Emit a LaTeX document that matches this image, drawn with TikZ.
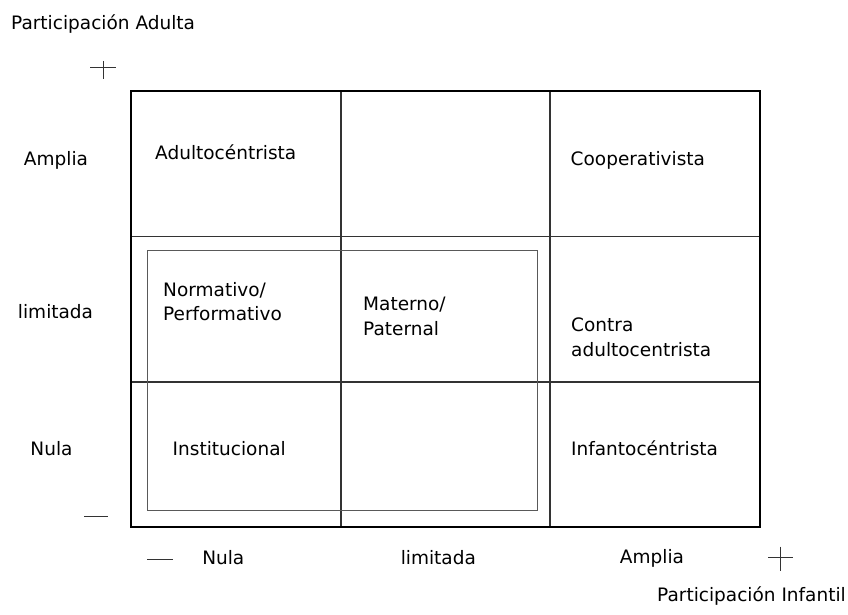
\documentclass[tikz,border=0pt]{standalone}
\usepackage{fontspec}
\setmainfont{DejaVu Sans}
\begin{document}
\begin{tikzpicture}[x=1pt,y=-1pt,
  lbl/.style={inner sep=0pt,font=\fontsize{18.5}{24.5}\selectfont,align=left},
  grid/.style={line width=1.2pt,draw=black!80},
  outer/.style={line width=2pt,draw=black},
  frame/.style={line width=1pt,draw=black!65},
  tick/.style={line width=0.8pt,draw=black!80}]
\useasboundingbox (0,0) rectangle (848,615);
% grid
\coordinate (TL) at (131,91);
\coordinate (BR) at (760,527);
\draw[grid] (341,91) -- (341,527);
\draw[grid] (550,91) -- (550,527);
\draw[grid] (131,236.5) -- (760,236.5);
\draw[grid] (131,382) -- (760,382);
\draw[frame] (147,250) rectangle (537,510);
\draw[outer] (TL) rectangle (BR);
% ticks
\draw[tick] (90,67.7) -- (116,67.7) (103.3,61) -- (103.3,79);
\draw[tick] (84,516.5) -- (108,516.5);
\draw[tick] (147,559.5) -- (173,559.5);
\draw[tick] (768,557.3) -- (793,557.3) (780.7,546.7) -- (780.7,570.7);
% axis labels
\node[lbl,anchor=base west] (pa) at (11,29.3) {Participación Adulta};
\node[lbl,anchor=base east] (pi) at (846,601.7) {Participación Infantil};
\node[lbl,anchor=base] (ya) at (56,165.7) {Amplia};
\node[lbl,anchor=base] (yl) at (55.5,318.3) {limitada};
\node[lbl,anchor=base] (yn) at (51.5,455) {Nula};
\node[lbl,anchor=base] (xn) at (223.3,564) {Nula};
\node[lbl,anchor=base] (xl) at (438.3,564) {limitada};
\node[lbl,anchor=base] (xa) at (652,563.5) {Amplia};
% cells
\node[lbl,anchor=base west] (c1) at (155,159) {Adultocéntrista};
\node[lbl,anchor=base west] (c2) at (570.5,165.7) {Cooperativista};
\node[lbl,anchor=base west] (c3) at (163,320.7) {Normativo/\\Performativo};
\node[lbl,anchor=base west] (c4) at (363,335.3) {Materno/\\Paternal};
\node[lbl,anchor=base west] (c5) at (571,356) {Contra\\adultocentrista};
\node[lbl,anchor=base west] (c6) at (172.5,455) {Institucional};
\node[lbl,anchor=base west] (c7) at (571,455) {Infantocéntrista};
\end{tikzpicture}
\end{document}
